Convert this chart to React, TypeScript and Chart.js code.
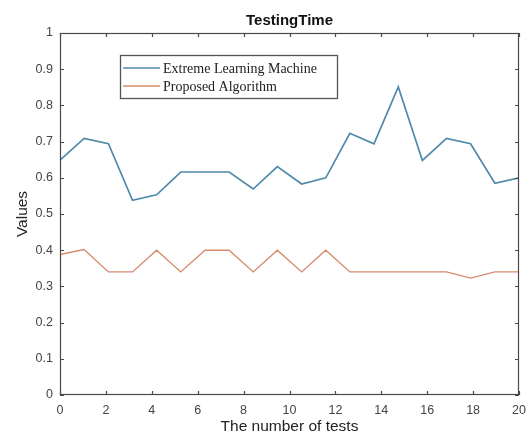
import React, { useEffect, useRef } from "react";
import { Chart, registerables } from "chart.js";

Chart.register(...registerables);

const testPositions = [0, 1.05, 2.11, 3.16, 4.21, 5.26, 6.32, 7.37, 8.42, 9.47, 10.53, 11.58, 12.63, 13.68, 14.74, 15.79, 16.84, 17.89, 18.95, 20];
const elmValues = [0.649, 0.709, 0.694, 0.538, 0.553, 0.616, 0.616, 0.616, 0.569, 0.631, 0.583, 0.6, 0.723, 0.694, 0.851, 0.648, 0.709, 0.694, 0.585, 0.6];
const proposedValues = [0.388, 0.402, 0.34, 0.34, 0.4, 0.34, 0.4, 0.4, 0.34, 0.4, 0.34, 0.4, 0.34, 0.34, 0.34, 0.34, 0.34, 0.323, 0.34, 0.34];
const seriesLabels = ["Extreme Learning Machine", "Proposed Algorithm"];
const seriesColors = ["#4f8aab", "#d68c6c"];
const chartTitle = "TestingTime";
const xTitle = "The number of tests";
const yTitle = "Values";

const AXIS_COLOR = "#4a4a4a";

const boxPlugin = {
  id: "matlabBox",
  afterDraw(chart: any) {
    const { ctx, chartArea } = chart;
    const { left, right, top, bottom } = chartArea;
    ctx.save();
    ctx.strokeStyle = AXIS_COLOR;
    ctx.lineWidth = 1.2;
    ctx.strokeRect(left + 0.5, top + 0.5, right - left - 1, bottom - top - 1);
    const xs = chart.scales.x;
    const ys = chart.scales.y;
    const tl = 4;
    ctx.beginPath();
    xs.ticks.forEach((t: any) => {
      const px = Math.round(xs.getPixelForValue(t.value)) + 0.5;
      ctx.moveTo(px, bottom);
      ctx.lineTo(px, bottom - tl);
      ctx.moveTo(px, top);
      ctx.lineTo(px, top + tl);
    });
    ys.ticks.forEach((t: any) => {
      const py = Math.round(ys.getPixelForValue(t.value)) + 0.5;
      ctx.moveTo(left, py);
      ctx.lineTo(left + tl, py);
      ctx.moveTo(right, py);
      ctx.lineTo(right - tl, py);
    });
    ctx.stroke();

    // title
    ctx.fillStyle = "#111";
    ctx.font = "bold 15px 'Liberation Sans', Arial, sans-serif";
    ctx.textAlign = "center";
    ctx.textBaseline = "middle";
    ctx.fillText(chartTitle, (left + right) / 2, top - 12);

    // legend
    const bx = left + 60;
    const by = top + 22;
    const bw = 217;
    const bh = 43;
    ctx.fillStyle = "#fff";
    ctx.fillRect(bx, by, bw, bh);
    ctx.strokeStyle = "#555";
    ctx.lineWidth = 1.3;
    ctx.strokeRect(bx + 0.5, by + 0.5, bw, bh);
    ctx.font = "14px 'Liberation Serif', 'Times New Roman', serif";
    ctx.textAlign = "left";
    ctx.textBaseline = "middle";
    chart.data.datasets.forEach((ds: any, i: number) => {
      const ry = by + 13 + i * 18;
      ctx.strokeStyle = ds.borderColor;
      ctx.lineWidth = 1.5;
      ctx.beginPath();
      ctx.moveTo(bx + 3, ry);
      ctx.lineTo(bx + 40, ry);
      ctx.stroke();
      ctx.fillStyle = "#222";
      ctx.fillText(ds.label, bx + 43, ry + 1);
    });
    ctx.restore();
  },
};

export default function App() {
  const ref = useRef<HTMLCanvasElement | null>(null);
  useEffect(() => {
    if (!ref.current) return;
    const tickFont = { family: "'Liberation Sans', Arial, sans-serif", size: 12.5 };
    const titleFont = { family: "'Liberation Sans', Arial, sans-serif", size: 15.5 };
    const chart = new Chart(ref.current, {
      type: "line",
      data: {
        datasets: [
          {
            label: seriesLabels[0],
            data: testPositions.map((x, i) => ({ x, y: elmValues[i] })),
            borderColor: seriesColors[0],
            borderWidth: 1.7,
            pointRadius: 0,
            tension: 0,
          },
          {
            label: seriesLabels[1],
            data: testPositions.map((x, i) => ({ x, y: proposedValues[i] })),
            borderColor: seriesColors[1],
            borderWidth: 1.4,
            pointRadius: 0,
            tension: 0,
          },
        ],
      },
      options: {
        animation: false,
        responsive: false,
        layout: { padding: { top: 33, right: 7, left: 0, bottom: 0 } },
        plugins: {
          legend: { display: false },
          title: { display: false },
          tooltip: { enabled: false },
        },
        scales: {
          x: {
            type: "linear",
            min: 0,
            max: 20,
            ticks: { stepSize: 2, color: "#444", font: tickFont, padding: 8, maxRotation: 0 },
            grid: { display: false, drawTicks: false },
            border: { display: false },
            title: {
              display: true,
              text: xTitle,
              color: "#222",
              font: titleFont,
              padding: { top: 0, bottom: 6 },
            },
            afterFit(scale: any) {
              scale.height = 47;
              scale.paddingLeft = 0;
              scale.paddingRight = 0;
            },
          },
          y: {
            type: "linear",
            min: 0,
            max: 1,
            ticks: {
              stepSize: 0.1,
              color: "#444",
              font: tickFont,
              padding: 7,
              callback: (v: any) => String(Math.round(Number(v) * 10) / 10),
            },
            grid: { display: false, drawTicks: false },
            border: { display: false },
            title: {
              display: true,
              text: yTitle,
              color: "#222",
              font: titleFont,
              padding: { top: 13, bottom: 0 },
            },
            afterFit(scale: any) {
              scale.width = 60;
              scale.paddingTop = 0;
              scale.paddingBottom = 0;
            },
          },
        },
      },
      plugins: [boxPlugin],
    });
    return () => chart.destroy();
  }, []);
  return (
    <div style={{ position: "fixed", left: 0, top: 0, width: 526, height: 442, background: "#fff" }}>
      <canvas ref={ref} width={526} height={442} />
    </div>
  );
}
